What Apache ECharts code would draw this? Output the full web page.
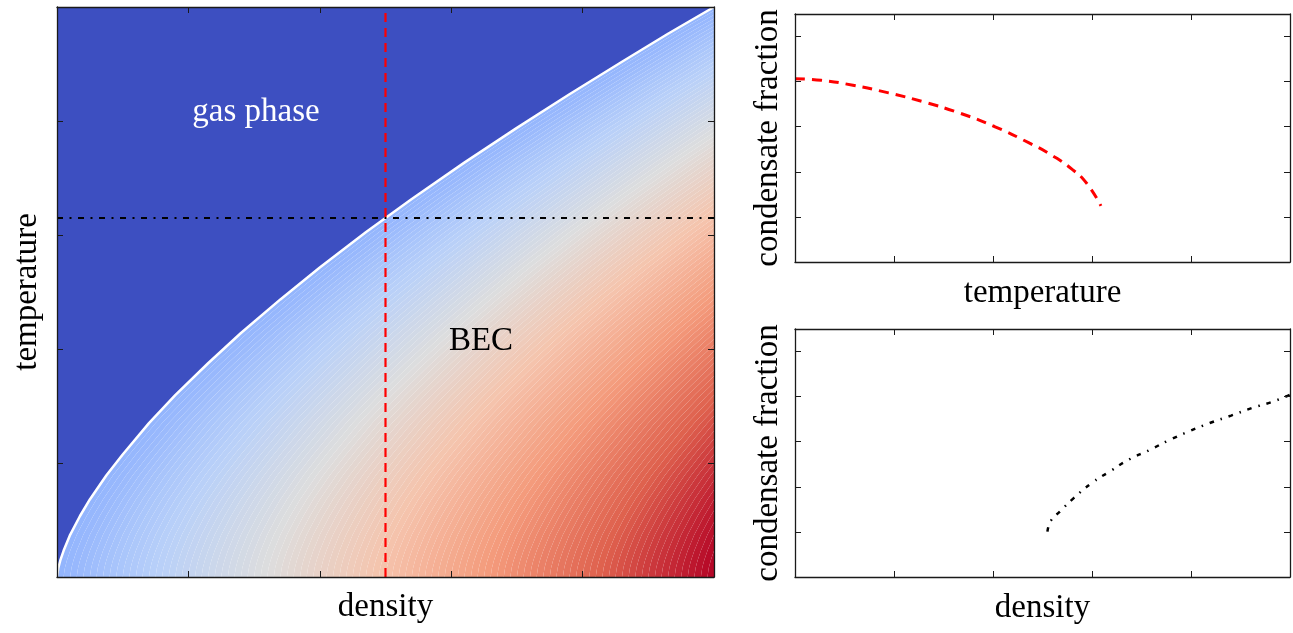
<!DOCTYPE html>
<html>
<head>
<meta charset="utf-8">
<script src="https://cdn.jsdelivr.net/npm/echarts@6/dist/echarts.min.js"></script>
<style>
  html, body { margin: 0; padding: 0; background: #fff; }
  #chart { width: 1293px; height: 633px; }
</style>
</head>
<body>
<div id="chart"></div>
<script>
// phase boundary T_c(n) (both axes 0..1)
const boundaryDensity = [0, 0.002, 0.005, 0.01, 0.02, 0.035, 0.05, 0.075, 0.1, 0.14, 0.18, 0.23,
  0.28, 0.34, 0.4, 0.47, 0.54, 0.62, 0.7, 0.78, 0.86, 0.93, 1.0];
const boundaryTemp = [0, 0.016, 0.029, 0.046, 0.074, 0.107, 0.136, 0.178, 0.215, 0.27, 0.319, 0.375,
  0.428, 0.487, 0.543, 0.605, 0.663, 0.727, 0.788, 0.847, 0.904, 0.953, 1.0];

// cuts through the diagram
const fixedDensity = 0.5;
const fixedTemp = 0.63;

// condensate fraction vs temperature (red dashed, top right)
const cutTemp = [0, 0.053, 0.117, 0.189, 0.26, 0.332, 0.403, 0.474, 0.517, 0.56, 0.59, 0.618];
const cutTempFraction = [0.813, 0.806, 0.784, 0.75, 0.71, 0.661, 0.601, 0.527, 0.476, 0.411, 0.347, 0.249];

// condensate fraction vs density (black dash-dot, bottom right)
const cutDensity = [0.51, 0.517, 0.535, 0.563, 0.599, 0.638, 0.674, 0.717, 0.753, 0.796, 0.838, 0.881, 0.924, 0.967, 1.0];
const cutDensityFraction = [0.201, 0.25, 0.29, 0.35, 0.416, 0.471, 0.52, 0.564, 0.604, 0.646, 0.683, 0.716, 0.75, 0.779, 0.809];

// contour levels of the BEC colouring (shift of the boundary along density)
const levels = [];
for (let i = 0; i <= 100; i++) levels.push(i / 100);

const coolwarm = ['#3b4cc0', '#6282ea', '#8db0fe', '#b8d0f9', '#dddddd',
  '#f5c4ad', '#f49a7b', '#de604d', '#b40426'];

const font = 'Liberation Serif';
const axisColor = '#1a1a1a';

function frameAxis(gridIndex, position, max, name, nameGap) {
  return {
    type: 'value', gridIndex, position, min: 0, max, interval: 0.2, z: 10,
    name, nameLocation: 'middle', nameGap,
    nameTextStyle: { fontFamily: font, fontSize: 33, color: '#000' },
    axisLine: { show: true, onZero: false, lineStyle: { color: axisColor, width: 1.3 } },
    axisTick: { show: true, inside: true, length: 6, lineStyle: { color: axisColor, width: 1 } },
    axisLabel: { show: false },
    splitLine: { show: false },
  };
}

const bands = [];
for (let i = 0; i < levels.length - 1; i++) {
  bands.push([levels[i], levels[i + 1], (levels[i] + levels[i + 1]) / 2]);
}

const chart = echarts.init(document.getElementById('chart'));
const option = {
  animation: false,
  grid: [
    { left: 57, top: 7, width: 657, height: 570 },
    { left: 795, top: 14, width: 495, height: 248 },
    { left: 795, top: 329, width: 495, height: 248 },
  ],
  xAxis: [
    frameAxis(0, 'bottom', 1, 'density', 14),
    frameAxis(0, 'top', 1, '', 0),
    frameAxis(1, 'bottom', 1, 'temperature', 15),
    frameAxis(1, 'top', 1, '', 0),
    frameAxis(2, 'bottom', 1, 'density', 15),
    frameAxis(2, 'top', 1, '', 0),
  ],
  yAxis: [
    frameAxis(0, 'left', 1, 'temperature', 13),
    frameAxis(0, 'right', 1, '', 0),
    frameAxis(1, 'left', 1.1, 'condensate fraction', 10),
    frameAxis(1, 'right', 1.1, '', 0),
    frameAxis(2, 'left', 1.1, 'condensate fraction', 10),
    frameAxis(2, 'right', 1.1, '', 0),
  ],
  visualMap: {
    show: false, type: 'continuous', seriesIndex: 0, dimension: 2,
    min: -0.36, max: 1, inRange: { color: coolwarm },
  },
  graphic: [
    { type: 'text', x: 256, y: 112, style: { text: 'gas phase', fill: '#fff', font: '33px "Liberation Serif"', textAlign: 'center', textVerticalAlign: 'middle' }, z: 20 },
    { type: 'text', x: 481, y: 341, style: { text: 'BEC', fill: '#000', font: '33px "Liberation Serif"', textAlign: 'center', textVerticalAlign: 'middle' }, z: 20 },
  ],
  series: [
    {
      type: 'custom', xAxisIndex: 0, yAxisIndex: 0, clip: true, silent: true, z: 1,
      data: bands,
      renderItem: function (params, api) {
        const lo = api.value(0), hi = api.value(1);
        const pts = [];
        for (let i = 0; i < boundaryDensity.length; i++) {
          pts.push(api.coord([boundaryDensity[i] + lo, boundaryTemp[i]]));
        }
        for (let i = boundaryDensity.length - 1; i >= 0; i--) {
          pts.push(api.coord([boundaryDensity[i] + hi, boundaryTemp[i]]));
        }
        return { type: 'polygon', shape: { points: pts }, style: { fill: api.visual('color') } };
      },
    },
    {
      // gas phase: everything above the boundary
      type: 'line', xAxisIndex: 0, yAxisIndex: 0, silent: true, z: 3, showSymbol: false,
      data: boundaryDensity.map((n, i) => [n, boundaryTemp[i]]),
      lineStyle: { color: '#fff', width: 2.5 },
      areaStyle: { color: '#3d4fc1', opacity: 1, origin: 'end' },
    },
    {
      type: 'line', xAxisIndex: 0, yAxisIndex: 0, silent: true, z: 4, showSymbol: false,
      data: [[fixedDensity, 0], [fixedDensity, 1]],
      lineStyle: { color: '#ff0000', width: 2.2, type: [9, 6] },
    },
    {
      type: 'line', xAxisIndex: 0, yAxisIndex: 0, silent: true, z: 5, showSymbol: false,
      data: [[0, fixedTemp], [1, fixedTemp]],
      lineStyle: { color: '#000', width: 2, type: [6, 6.5, 2, 6.5] },
    },
    {
      type: 'line', xAxisIndex: 2, yAxisIndex: 2, silent: true, showSymbol: false, smooth: 0.5,
      data: cutTemp.map((t, i) => [t, cutTempFraction[i]]),
      lineStyle: { color: '#ff0000', width: 3, type: [10, 7] },
    },
    {
      type: 'line', xAxisIndex: 4, yAxisIndex: 4, silent: true, showSymbol: false, smooth: 0.5,
      data: cutDensity.map((n, i) => [n, cutDensityFraction[i]]),
      lineStyle: { color: '#000', width: 2.5, type: [4.5, 7, 1.5, 7] },
    },
  ],
};
chart.setOption(option);
window.addEventListener('resize', function () {
  chart.resize();
});
</script>
</body>
</html>
